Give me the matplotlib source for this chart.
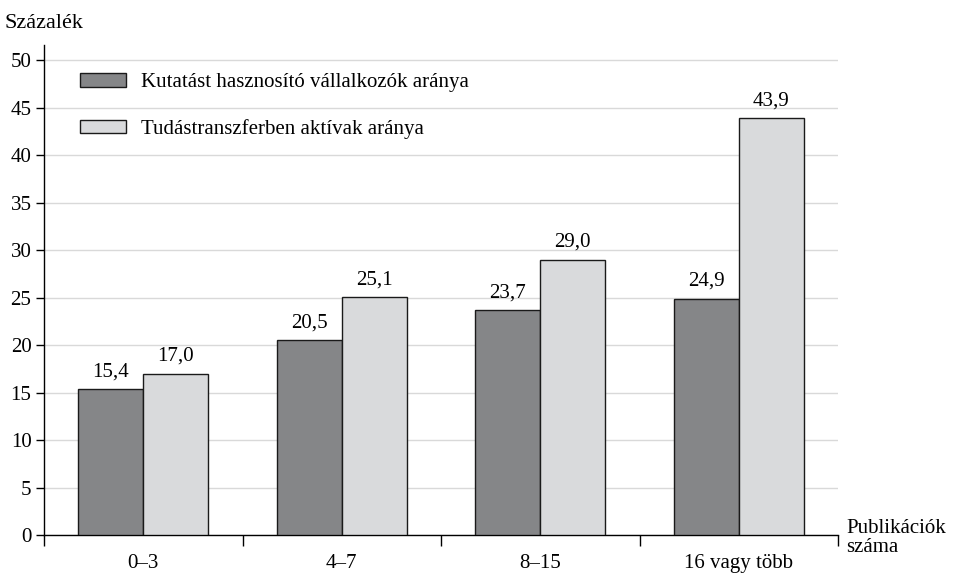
import numpy as np
import matplotlib
matplotlib.use("Agg")
import matplotlib.pyplot as plt

plt.rcParams['font.family'] = ['Liberation Serif', 'DejaVu Serif']

categories = ['0–3', '4–7', '8–15', '16 vagy több']
kutatas = [15.4, 20.5, 23.7, 24.9]
tudas = [17.0, 25.1, 29.0, 43.9]
series_names = ['Kutatást hasznosító vállalkozók aránya', 'Tudástranszferben aktívak aránya']

dark = '#858688'
light = '#d9dadc'
fs = 15

fig = plt.figure(figsize=(9.79, 5.73), dpi=100)
ax = fig.add_axes([44/979, (573-535)/573, (838-44)/979, (535-45)/573])

x = np.arange(len(categories))
w = 0.327
b1 = ax.bar(x - w/2, kutatas, w, color=dark, edgecolor='#1a1a1a', linewidth=1.0, label=series_names[0], zorder=3)
b2 = ax.bar(x + w/2, tudas, w, color=light, edgecolor='#1a1a1a', linewidth=1.0, label=series_names[1], zorder=3)

for bars, vals in ((b1, kutatas), (b2, tudas)):
    for rect, v in zip(bars, vals):
        ax.text(rect.get_x() + rect.get_width()/2, v + 0.8, f'{v:.1f}'.replace('.', ','),
                ha='center', va='bottom', fontsize=fs)

ax.set_xlim(-0.5, 3.5)
ax.set_ylim(0, 51.6)
ax.set_yticks(np.arange(0, 51, 5))
ax.tick_params(axis='y', labelsize=fs, length=6, width=1, direction='out', pad=3)
ax.yaxis.grid(True, color='#d9d9d9', linewidth=1.0, zorder=0)
ax.set_axisbelow(True)

# category ticks on boundaries, labels centered
ax.set_xticks(np.arange(-0.5, 4, 1))
ax.set_xticklabels([])
ax.set_xticks(x, minor=True)
ax.set_xticklabels(categories, minor=True, fontsize=fs)
ax.tick_params(axis='x', which='major', length=8, width=1, direction='out')
ax.tick_params(axis='x', which='minor', length=0, pad=14)

for s in ['top', 'right']:
    ax.spines[s].set_visible(False)
for s in ['left', 'bottom']:
    ax.spines[s].set_linewidth(1.0)

fig.text(5/979, 1 - 24/573, 'Százalék', fontsize=16, va='center', ha='left')
fig.text(846/979, 1 - 538/573, 'Publikációk\nszáma', fontsize=fs, va='center', ha='left', linespacing=1.05)

ax.legend(loc='upper left', bbox_to_anchor=(80/979, 1 - 73/573), bbox_transform=fig.transFigure,
          frameon=False, fontsize=fs, handlelength=2.2, handleheight=0.62,
          handletextpad=0.72, labelspacing=1.3, borderpad=0, borderaxespad=0)

fig.savefig('out.png', dpi=100)
